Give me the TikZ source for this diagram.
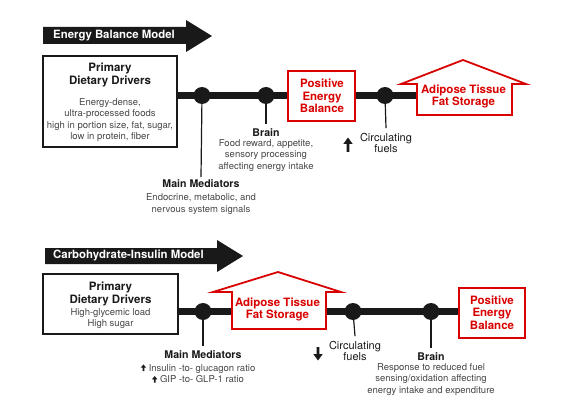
\documentclass[tikz,border=0pt]{standalone}
\usepackage{fontspec}
\setmainfont{TeX Gyre Heros}
\newcommand{\smup}{\tikz[baseline=0pt,x=1pt,y=1pt]\fill[black!90] (-0.9,0) -- (-0.9,3.4) -- (-2.7,3.4) -- (0,6.6) -- (2.7,3.4) -- (0.9,3.4) -- (0.9,0) -- cycle;}
\begin{document}
\begin{tikzpicture}[x=1pt,y=-1pt,
  bar/.style={line width=7pt,black!90},
  dot/.style={circle,fill=black!90,inner sep=0pt,minimum size=17pt},
  stem/.style={line width=1.2pt,black!90},
  drvbox/.style={draw=black!90,line width=1.8pt,fill=white},
  redbox/.style={draw=red!85!black,line width=1.8pt,fill=white},
  redtxt/.style={inner sep=0pt,text=red!85!black,font=\fontsize{11.5}{12.5}\selectfont\bfseries,align=center},
  head/.style={inner sep=0pt,font=\fontsize{10.6}{12}\selectfont\bfseries,text=black!90,align=center},
  fuel/.style={inner sep=0pt,font=\fontsize{11}{11}\selectfont,text=black!90,align=center},
  small/.style={inner sep=0pt,font=\fontsize{9.5}{11.6}\selectfont,text=black!72,align=center},
  ttl/.style={inner sep=0pt,font=\fontsize{11.4}{12}\selectfont\bfseries,text=white}
]
\useasboundingbox (0,0) rectangle (564,414);
\fill[white] (0,0) rectangle (564,414);

% ===== Energy Balance Model =====
\fill[black!90] (43,27) -- (186,27) -- (186,20) -- (212,36) -- (186,52) -- (186,44) -- (43,44) -- cycle;
\node[ttl,anchor=west] (t1) at (53,36) {Energy Balance Model};

\coordinate (b1e) at (177,95.5);
\coordinate (a1w) at (417,95.5);
\draw[bar] (b1e) -- (a1w);

\node[dot] (m1) at (202,95.5) {};
\node[dot] (m2) at (266,95.5) {};
\node[dot] (m3) at (385,95.5) {};

\node[head] (mm1) at (201,184) {Main Mediators};
\node[small] (mm1t) at (201,204) {Endocrine, metabolic, and\\nervous system signals};
\draw[stem] (m1) -- ([yshift=3pt]mm1.north);

\node[head] (br1) at (266,133) {Brain};
\node[small] (br1t) at (266,155.5) {Food reward, appetite,\\sensory processing\\affecting energy intake};
\draw[stem] (m2) -- ([yshift=5pt]br1.north);

\node[fuel] (cf1) at (386,143) {Circulating\\fuels};
\draw[stem] (m3) -- ([yshift=5pt]cf1.north);
\fill[black!90] (346.7,152) -- (346.7,144) -- (343.3,144) -- (348,137.5) -- (352.7,144) -- (349.3,144) -- (349.3,152) -- cycle;

\draw[drvbox] (43,56) rectangle (177,147);
\node[head,font=\fontsize{11.5}{13}\selectfont\bfseries] (pd1) at (110,74.5) {Primary\\Dietary Drivers};
\node[small] (pd1t) at (110,120) {Energy-dense,\\ultra-processed foods\\high in portion size, fat, sugar,\\low in protein, fiber};

\draw[redbox] (288,71) rectangle (355,121);
\node[redtxt] (peb1) at (322,96) {Positive\\Energy\\Balance};

\draw[redbox] (417,115) -- (417,84) -- (401,84) -- (463,60) -- (526,84) -- (512,84) -- (512,115) -- cycle;
\node[redtxt,font=\fontsize{11.5}{12}\selectfont\bfseries] (adi1) at (463.5,96.5) {Adipose Tissue\\Fat Storage};

% ===== Carbohydrate-Insulin Model =====
\fill[black!90] (45,248) -- (217,248) -- (217,240) -- (243,256) -- (217,272) -- (217,264) -- (45,264) -- cycle;
\node[ttl,anchor=west] (t2) at (53,255.5) {Carbohydrate-Insulin Model};

\coordinate (b2e) at (178,311.5);
\coordinate (p2w) at (459,311.5);
\draw[bar] (b2e) -- (p2w);

\node[dot] (n1) at (203,311.5) {};
\node[dot] (n2) at (353,311.5) {};
\node[dot] (n3) at (431,311.5) {};

\node[head] (mm2) at (203,355) {Main Mediators};
\node[small] (mm2t) at (198,373.5) {\smup\ Insulin -to- glucagon ratio\\\smup\ GIP -to- GLP-1 ratio};
\draw[stem] (n1) -- ([yshift=5pt]mm2.north);

\node[fuel] (cf2) at (355,351) {Circulating\\fuels};
\draw[stem] (n2) -- ([yshift=5pt]cf2.north);
\fill[black!90] (316.7,347) -- (316.7,354) -- (313.3,354) -- (318,360.5) -- (322.7,354) -- (319.3,354) -- (319.3,347) -- cycle;

\node[head] (br2) at (431,357) {Brain};
\node[small] (br2t) at (431,379.5) {Response to reduced fuel\\sensing/oxidation affecting\\energy intake and expenditure};
\draw[stem] (n3) -- ([yshift=5pt]br2.north);

\draw[drvbox] (43,274) rectangle (178,334);
\node[head,font=\fontsize{11.5}{13.5}\selectfont\bfseries] (pd2) at (110.5,294) {Primary\\Dietary Drivers};
\node[small] (pd2t) at (110.5,318.5) {High-glycemic load\\High sugar};

\draw[redbox] (232,329) -- (232,292) -- (213,292) -- (278,272) -- (341,292) -- (326,292) -- (326,329) -- cycle;
\node[redtxt,font=\fontsize{11.5}{12.5}\selectfont\bfseries] (adi2) at (277.5,309.5) {Adipose Tissue\\Fat Storage};

\draw[redbox] (459,288) rectangle (525,338);
\node[redtxt] (peb2) at (492,312.5) {Positive\\Energy\\Balance};
\end{tikzpicture}
\end{document}
